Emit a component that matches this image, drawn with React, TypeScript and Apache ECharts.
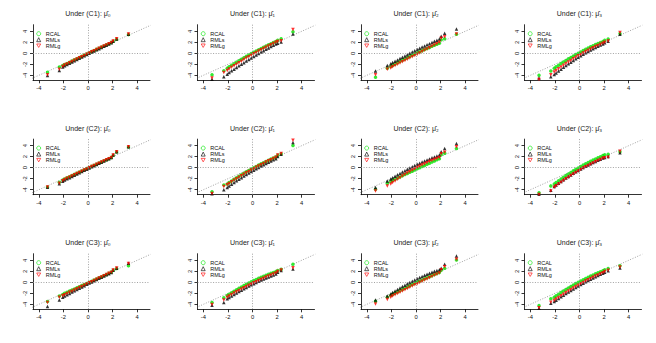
import React, { useEffect, useRef } from 'react';
import * as echarts from 'echarts';

// Theoretical normal quantiles (x) shared by every panel
const QUANTILES = [-3.29, -2.33, -2.05, -1.9, -1.7, -1.5, -1.3, -1.1, -0.9, -0.7, -0.5, -0.3, -0.1, 0.1, 0.3, 0.5, 0.7, 0.9, 1.1, 1.3, 1.5, 1.7, 1.9, 2.05, 2.33, 3.29];
const TICKS = [-4, -2, 0, 2, 4];
const SERIES_NAMES = ['RCAL', 'RMLs', 'RMLg'];
const CONDITIONS = ['C1', 'C2', 'C3'];
const ESTIMANDS = ['\u03bc\u0302\u2080', '\u03bc\u0302\u2081', '\u03bc\u0302\u2082', '\u03bc\u0302\u2083'];

// (C1)
const C1_MU0_RCAL = [-3.45, -2.5, -2.22, -2.04, -1.83, -1.61, -1.40, -1.18, -0.97, -0.75, -0.54, -0.32, -0.11, 0.10, 0.31, 0.51, 0.72, 0.92, 1.13, 1.33, 1.54, 1.74, 1.95, 2.2, 2.55, 3.4];
const C1_MU0_RMLS = [-4.05, -3.1, -2.5, -2.24, -2.01, -1.79, -1.56, -1.34, -1.11, -0.89, -0.66, -0.44, -0.21, 0.01, 0.22, 0.43, 0.64, 0.85, 1.06, 1.27, 1.48, 1.69, 1.90, 2.2, 2.6, 3.45];
const C1_MU0_RMLG = [-3.9, -2.9, -2.4, -2.14, -1.92, -1.70, -1.48, -1.26, -1.04, -0.82, -0.60, -0.38, -0.16, 0.06, 0.27, 0.48, 0.69, 0.90, 1.11, 1.32, 1.53, 1.74, 1.95, 2.25, 2.65, 3.5];

const C1_MU1_RCAL = [-3.9, -3.15, -2.7, -2.45, -2.17, -1.88, -1.61, -1.33, -1.07, -0.81, -0.55, -0.30, -0.05, 0.19, 0.43, 0.66, 0.88, 1.11, 1.33, 1.54, 1.74, 1.95, 2.15, 2.35, 2.65, 3.9];
const C1_MU1_RMLS = [-4.7, -4.25, -3.8, -3.49, -3.18, -2.87, -2.57, -2.27, -1.97, -1.69, -1.40, -1.12, -0.84, -0.56, -0.30, -0.04, 0.23, 0.48, 0.74, 0.98, 1.23, 1.46, 1.70, 1.85, 2.05, 3.5];
const C1_MU1_RMLG = [-4.5, -3.5, -3.1, -2.85, -2.55, -2.26, -1.98, -1.69, -1.42, -1.14, -0.87, -0.60, -0.35, -0.09, 0.16, 0.41, 0.64, 0.88, 1.12, 1.35, 1.57, 1.79, 2.0, 2.15, 2.3, 4.35];

const C1_MU2_RCAL = [-4.35, -2.7, -2.4, -2.19, -1.96, -1.73, -1.50, -1.27, -1.04, -0.81, -0.58, -0.35, -0.12, 0.10, 0.29, 0.49, 0.68, 0.88, 1.07, 1.27, 1.46, 1.66, 1.85, 2.45, 2.65, 3.45];
const C1_MU2_RMLS = [-3.2, -2.2, -1.9, -1.68, -1.44, -1.20, -0.96, -0.72, -0.48, -0.24, 0.0, 0.24, 0.48, 0.71, 0.92, 1.13, 1.34, 1.55, 1.76, 1.97, 2.18, 2.39, 2.60, 3.1, 3.65, 4.4];
const C1_MU2_RMLG = [-3.9, -2.9, -2.65, -2.44, -2.21, -1.99, -1.76, -1.54, -1.31, -1.09, -0.86, -0.64, -0.41, -0.18, 0.06, 0.31, 0.55, 0.79, 1.03, 1.27, 1.52, 1.76, 2.0, 2.75, 3.0, 3.5];

const C1_MU3_RCAL = [-4.0, -3.2, -2.7, -2.45, -2.15, -1.86, -1.57, -1.29, -1.01, -0.74, -0.48, -0.22, 0.02, 0.26, 0.50, 0.73, 0.95, 1.17, 1.38, 1.58, 1.78, 1.97, 2.15, 2.35, 2.6, 3.6];
const C1_MU3_RMLS = [-4.5, -4.25, -3.85, -3.57, -3.23, -2.88, -2.55, -2.23, -1.91, -1.60, -1.30, -1.00, -0.72, -0.44, -0.17, 0.09, 0.35, 0.59, 0.82, 1.05, 1.28, 1.50, 1.70, 1.9, 2.2, 3.45];
const C1_MU3_RMLG = [-4.75, -3.9, -3.4, -3.13, -2.81, -2.49, -2.18, -1.87, -1.58, -1.29, -1.00, -0.73, -0.46, -0.20, 0.06, 0.31, 0.55, 0.78, 1.00, 1.23, 1.44, 1.65, 1.85, 2.0, 2.25, 3.8];

// (C2)
const C2_MU0_RCAL = [-3.5, -2.65, -2.25, -2.05, -1.84, -1.63, -1.42, -1.21, -1.0, -0.79, -0.58, -0.37, -0.16, 0.05, 0.25, 0.45, 0.65, 0.85, 1.05, 1.25, 1.45, 1.65, 1.85, 2.25, 2.85, 3.75];
const C2_MU0_RMLS = [-3.55, -2.9, -2.45, -2.24, -2.02, -1.80, -1.58, -1.36, -1.14, -0.92, -0.70, -0.48, -0.26, -0.04, 0.17, 0.38, 0.59, 0.80, 1.01, 1.22, 1.43, 1.64, 1.85, 2.3, 2.9, 3.8];
const C2_MU0_RMLG = [-3.5, -2.8, -2.35, -2.14, -1.93, -1.71, -1.50, -1.28, -1.07, -0.85, -0.64, -0.42, -0.21, 0.0, 0.21, 0.41, 0.62, 0.82, 1.03, 1.23, 1.44, 1.64, 1.85, 2.3, 2.9, 3.8];

const C2_MU1_RCAL = [-4.35, -3.15, -2.95, -2.70, -2.41, -2.11, -1.83, -1.55, -1.28, -1.01, -0.75, -0.50, -0.24, 0.0, 0.24, 0.47, 0.70, 0.92, 1.14, 1.35, 1.56, 1.76, 1.95, 2.25, 2.55, 4.05];
const C2_MU1_RMLS = [-4.75, -4.0, -3.6, -3.30, -2.99, -2.68, -2.38, -2.08, -1.80, -1.51, -1.23, -0.96, -0.70, -0.44, -0.18, 0.06, 0.31, 0.55, 0.78, 1.00, 1.22, 1.44, 1.65, 2.05, 2.45, 4.6];
const C2_MU1_RMLG = [-4.7, -3.4, -3.1, -2.86, -2.57, -2.29, -2.00, -1.73, -1.46, -1.19, -0.93, -0.67, -0.42, -0.17, 0.07, 0.32, 0.55, 0.79, 1.02, 1.25, 1.47, 1.68, 1.90, 2.3, 2.6, 5.0];

const C2_MU2_RCAL = [-3.9, -2.8, -2.5, -2.30, -2.09, -1.88, -1.67, -1.46, -1.25, -1.04, -0.83, -0.62, -0.41, -0.20, 0.01, 0.21, 0.42, 0.62, 0.83, 1.03, 1.24, 1.44, 1.65, 2.35, 2.65, 3.5];
const C2_MU2_RMLS = [-3.6, -2.4, -2.05, -1.81, -1.55, -1.28, -1.03, -0.78, -0.53, -0.29, -0.06, 0.17, 0.39, 0.61, 0.82, 1.02, 1.22, 1.42, 1.60, 1.79, 1.96, 2.13, 2.30, 2.9, 3.5, 4.4];
const C2_MU2_RMLG = [-4.25, -3.3, -2.95, -2.70, -2.39, -2.10, -1.81, -1.52, -1.25, -0.98, -0.72, -0.47, -0.22, 0.02, 0.25, 0.48, 0.69, 0.90, 1.11, 1.30, 1.49, 1.68, 1.85, 2.55, 2.8, 3.8];

const C2_MU3_RCAL = [-4.55, -3.3, -2.95, -2.69, -2.36, -2.04, -1.74, -1.43, -1.14, -0.86, -0.57, -0.30, -0.04, 0.23, 0.48, 0.71, 0.95, 1.18, 1.40, 1.60, 1.81, 2.01, 2.20, 2.35, 2.45, 2.9];
const C2_MU3_RMLS = [-4.8, -4.1, -3.4, -3.14, -2.81, -2.49, -2.19, -1.88, -1.59, -1.31, -1.02, -0.75, -0.49, -0.22, 0.03, 0.26, 0.50, 0.73, 0.95, 1.15, 1.36, 1.56, 1.75, 1.85, 2.05, 2.7];
const C2_MU3_RMLG = [-4.85, -4.25, -3.55, -3.29, -2.95, -2.63, -2.32, -2.01, -1.71, -1.42, -1.14, -0.86, -0.58, -0.32, -0.07, 0.17, 0.42, 0.65, 0.88, 1.10, 1.30, 1.50, 1.70, 1.8, 1.9, 3.0];

// (C3)
const C3_MU0_RCAL = [-3.5, -2.5, -2.2, -2.0, -1.8, -1.6, -1.4, -1.2, -1.0, -0.8, -0.6, -0.4, -0.2, 0.0, 0.21, 0.41, 0.62, 0.82, 1.03, 1.23, 1.44, 1.64, 1.85, 2.2, 2.5, 3.0];
const C3_MU0_RMLS = [-4.4, -3.2, -2.7, -2.48, -2.25, -2.01, -1.78, -1.54, -1.31, -1.07, -0.84, -0.60, -0.37, -0.14, 0.07, 0.29, 0.51, 0.72, 0.94, 1.15, 1.37, 1.58, 1.80, 2.2, 2.55, 3.45];
const C3_MU0_RMLG = [-3.65, -2.7, -2.45, -2.24, -2.03, -1.81, -1.60, -1.38, -1.17, -0.95, -0.74, -0.52, -0.31, -0.09, 0.12, 0.34, 0.56, 0.77, 0.99, 1.20, 1.42, 1.63, 1.85, 2.25, 2.6, 3.4];

const C3_MU1_RCAL = [-3.65, -2.8, -2.4, -2.16, -1.88, -1.61, -1.35, -1.09, -0.84, -0.60, -0.36, -0.13, 0.09, 0.31, 0.52, 0.72, 0.92, 1.10, 1.29, 1.46, 1.63, 1.79, 1.95, 2.15, 2.35, 3.3];
const C3_MU1_RMLS = [-4.15, -3.65, -3.0, -2.76, -2.48, -2.20, -1.94, -1.68, -1.42, -1.17, -0.93, -0.69, -0.46, -0.24, -0.02, 0.19, 0.40, 0.60, 0.79, 0.98, 1.16, 1.33, 1.50, 1.85, 2.15, 2.4];
const C3_MU1_RMLG = [-4.05, -3.2, -2.7, -2.47, -2.21, -1.96, -1.71, -1.47, -1.23, -0.99, -0.76, -0.53, -0.31, -0.09, 0.12, 0.34, 0.54, 0.75, 0.95, 1.14, 1.33, 1.52, 1.70, 1.95, 2.25, 2.65];

const C3_MU2_RCAL = [-3.45, -2.7, -2.4, -2.19, -1.96, -1.74, -1.51, -1.29, -1.06, -0.84, -0.61, -0.39, -0.16, 0.05, 0.24, 0.44, 0.63, 0.83, 1.02, 1.22, 1.41, 1.61, 1.80, 2.2, 2.55, 4.05];
const C3_MU2_RMLS = [-3.2, -2.5, -2.1, -1.86, -1.57, -1.29, -1.03, -0.76, -0.51, -0.26, -0.02, 0.21, 0.44, 0.66, 0.87, 1.07, 1.27, 1.46, 1.64, 1.82, 1.99, 2.15, 2.30, 2.55, 3.3, 4.8];
const C3_MU2_RMLG = [-3.95, -3.1, -2.7, -2.49, -2.26, -2.04, -1.81, -1.59, -1.36, -1.14, -0.91, -0.69, -0.46, -0.24, -0.03, 0.19, 0.41, 0.62, 0.84, 1.05, 1.27, 1.48, 1.70, 2.3, 2.85, 4.2];

const C3_MU3_RCAL = [-4.2, -3.0, -2.7, -2.45, -2.15, -1.85, -1.57, -1.29, -1.02, -0.74, -0.49, -0.23, 0.01, 0.25, 0.48, 0.71, 0.93, 1.14, 1.34, 1.54, 1.73, 1.92, 2.10, 2.3, 2.5, 3.0];
const C3_MU3_RMLS = [-4.7, -3.8, -3.5, -3.24, -2.93, -2.63, -2.33, -2.04, -1.75, -1.47, -1.20, -0.93, -0.66, -0.40, -0.15, 0.09, 0.33, 0.57, 0.80, 1.02, 1.24, 1.45, 1.65, 1.85, 2.1, 2.6];
const C3_MU3_RMLG = [-4.6, -3.6, -3.3, -3.05, -2.74, -2.44, -2.15, -1.86, -1.58, -1.30, -1.03, -0.77, -0.51, -0.26, -0.01, 0.23, 0.47, 0.70, 0.92, 1.13, 1.35, 1.56, 1.75, 1.95, 2.2, 2.8];

const PANELS = [
  [C1_MU0_RCAL, C1_MU0_RMLS, C1_MU0_RMLG],
  [C1_MU1_RCAL, C1_MU1_RMLS, C1_MU1_RMLG],
  [C1_MU2_RCAL, C1_MU2_RMLS, C1_MU2_RMLG],
  [C1_MU3_RCAL, C1_MU3_RMLS, C1_MU3_RMLG],
  [C2_MU0_RCAL, C2_MU0_RMLS, C2_MU0_RMLG],
  [C2_MU1_RCAL, C2_MU1_RMLS, C2_MU1_RMLG],
  [C2_MU2_RCAL, C2_MU2_RMLS, C2_MU2_RMLG],
  [C2_MU3_RCAL, C2_MU3_RMLS, C2_MU3_RMLG],
  [C3_MU0_RCAL, C3_MU0_RMLS, C3_MU0_RMLG],
  [C3_MU1_RCAL, C3_MU1_RMLS, C3_MU1_RMLG],
  [C3_MU2_RCAL, C3_MU2_RMLS, C3_MU2_RMLG],
  [C3_MU3_RCAL, C3_MU3_RMLS, C3_MU3_RMLG],
];

const COLORS = ['#00e600', '#000000', '#ff0000'];
const SYMBOLS = ['circle', 'triangle', 'triangle'];
const SYMBOL_ROTATE = [0, 0, 180];
const LEGEND_ICONS = ['circle', 'triangle', 'path://M0,0L10,0L5,8.66Z'];

const FONT = '"Liberation Sans", Arial, Helvetica, sans-serif';
const COL_LEFT = [33, 197.5, 361, 524.5];
const ROW_TOP = [24.7, 139.1, 253.7];
const TITLE_Y = [13, 128, 242];
const PW = 117;
const PH = 55.6;
const X_MIN = -4.47;
const X_MAX = 5.04;
const Y_MIN = -4.9;
const Y_MAX = 5.2;

export default function App() {
  const ref = useRef<HTMLDivElement>(null);
  useEffect(() => {
    document.body.style.margin = '0';
    const chart = echarts.init(ref.current as HTMLDivElement, null, { renderer: 'svg' });
    const grids: any[] = [];
    const xAxes: any[] = [];
    const yAxes: any[] = [];
    const series: any[] = [];
    const legends: any[] = [];
    const graphics: any[] = [];
    const axisLineStyle = { color: '#000', width: 0.8 };
    const refLine = { color: '#8a8a8a', type: [1, 1.6], width: 0.8 };

    for (let r = 0; r < 3; r++) {
      for (let c = 0; c < 4; c++) {
        const i = r * 4 + c;
        const left = COL_LEFT[c];
        const top = ROW_TOP[r];
        grids.push({ left, top, width: PW, height: PH, containLabel: false });
        xAxes.push({
          type: 'value', gridIndex: i, min: X_MIN, max: X_MAX,
          axisLine: { show: true, onZero: false, lineStyle: axisLineStyle },
          axisTick: { show: true, length: 3, customValues: TICKS, lineStyle: axisLineStyle },
          axisLabel: { customValues: TICKS, fontSize: 5.8, color: '#111', margin: 5, fontFamily: FONT },
          splitLine: { show: false },
        });
        yAxes.push({
          type: 'value', gridIndex: i, min: Y_MIN, max: Y_MAX,
          axisLine: { show: true, onZero: false, lineStyle: axisLineStyle },
          axisTick: { show: true, length: 3, customValues: TICKS, lineStyle: axisLineStyle },
          axisLabel: { customValues: TICKS, fontSize: 5.8, color: '#111', margin: 5, rotate: 90, fontFamily: FONT },
          splitLine: { show: false },
        });
        // reference lines: diagonal y = x, and dotted zero lines
        series.push({
          type: 'line', xAxisIndex: i, yAxisIndex: i, silent: true, clip: false,
          data: [[-4.95, -4.95], [5.1, 5.1]], showSymbol: false, symbol: 'none',
          lineStyle: refLine, z: 1,
          markLine: {
            silent: true, symbol: ['none', 'none'], label: { show: false },
            lineStyle: refLine, emphasis: { disabled: true },
            data: [{ xAxis: 0 }, { yAxis: 0 }],
          },
        });
        PANELS[i].forEach((vals, s) => {
          series.push({
            type: 'scatter', name: SERIES_NAMES[s], xAxisIndex: i, yAxisIndex: i,
            symbol: SYMBOLS[s], symbolRotate: SYMBOL_ROTATE[s], symbolSize: 3.5,
            itemStyle: { color: COLORS[s] }, z: 2 + s,
            data: QUANTILES.map((q, k) => [q, vals[k]]),
          });
        });
        legends.push({
          left: left + 3.3, top: top + 6, orient: 'vertical', padding: 0, itemGap: 0,
          itemWidth: 4, itemHeight: 4, selectedMode: false,
          textStyle: { fontSize: 5.5, lineHeight: 5, color: '#111', fontFamily: FONT },
          data: SERIES_NAMES.map((n, s) => ({
            name: n, icon: LEGEND_ICONS[s],
            itemStyle: { color: 'rgba(0,0,0,0)', borderColor: COLORS[s], borderWidth: 0.8 },
          })),
        });
        graphics.push({
          type: 'text', x: left + 55, y: TITLE_Y[r], silent: true,
          style: {
            text: 'Under (' + CONDITIONS[r] + '): ' + ESTIMANDS[c],
            fontSize: 7, fontWeight: 'normal', fontFamily: FONT, fill: '#222',
            align: 'center', verticalAlign: 'middle',
          },
        });
      }
    }

    chart.setOption({
      animation: false,
      backgroundColor: '#fff',
      grid: grids,
      xAxis: xAxes,
      yAxis: yAxes,
      series,
      legend: legends,
      graphic: graphics,
    });
    return () => chart.dispose();
  }, []);
  return <div ref={ref} style={{ width: 656, height: 343 }} />;
}
